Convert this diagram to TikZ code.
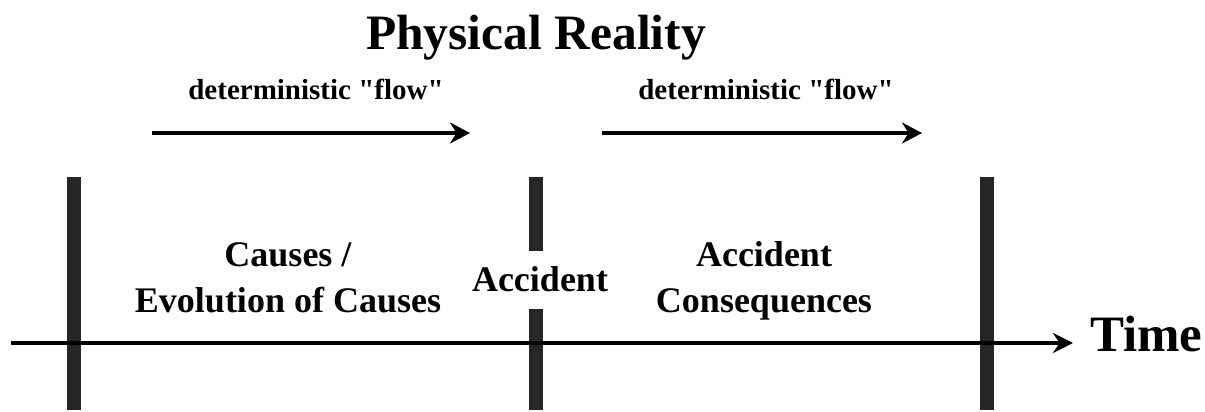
\documentclass[tikz,border=0pt]{standalone}
\usepackage{fontspec}
\setmainfont{Liberation Serif}[Ligatures=TeXOff]
\usepackage{tikz}
\usetikzlibrary{arrows.meta,positioning}
\definecolor{barfill}{HTML}{262626}

\begin{document}
\begin{tikzpicture}[x=1pt,y=1pt,
    lbl/.style={font=\bfseries\fontsize{36}{46}\selectfont, align=center, inner sep=0pt},
    flowlbl/.style={font=\bfseries\fontsize{29}{34}\selectfont, inner sep=0pt, anchor=base},
    flowarrow/.style={line width=3.2pt, -{Stealth[length=20pt,width=21pt]}},
    timebar/.style={fill=barfill, draw=none, minimum width=14pt, inner sep=0pt, anchor=south}]
  \useasboundingbox (0,0) rectangle (1205,412);
  % heading
  \node[inner sep=0pt, anchor=base, font=\bfseries\fontsize{49.5}{55}\selectfont] (title) at (536,362) {Physical Reality};
  % the two flows
  \node[flowlbl] (flowA) at (316,312) {deterministic "flow"};
  \node[flowlbl] (flowB) at (766,312) {deterministic "flow"};
  \coordinate (flowAstart) at (152,279);
  \coordinate (flowAend) at (470,279);
  \coordinate (flowBstart) at (602,279);
  \coordinate (flowBend) at (922,279);
  \draw[flowarrow] (flowAstart) -- (flowAend);
  \draw[flowarrow] (flowBstart) -- (flowBend);
  % bars
  \node[timebar, minimum height=233pt] (barStart) at (74,2) {};
  \node[timebar, minimum height=101pt] (barMidLow) at (536,2) {};
  \node[timebar, minimum height=74pt] (barMidHigh) at (536,161) {};
  \node[timebar, minimum height=233pt] (barEnd) at (987,2) {};
  % time axis
  \node[inner sep=0pt, anchor=base west, font=\bfseries\fontsize{51}{56}\selectfont] (time) at (1090,60) {Time};
  \coordinate (axisStart) at (11,69);
  \coordinate (axisEnd) at (1073,69);
  \draw[line width=3.2pt, -{Stealth[length=20pt,width=20pt]}] (axisStart) -- (axisEnd);
  % phases (base = last line)
  \node[lbl, anchor=base] (causes) at (288,99) {Causes /\\Evolution of Causes};
  \node[lbl, anchor=base] (accident) at (540,120) {Accident};
  \node[lbl, anchor=base] (conseq) at (764,99) {Accident\\Consequences};
\end{tikzpicture}
\end{document}
